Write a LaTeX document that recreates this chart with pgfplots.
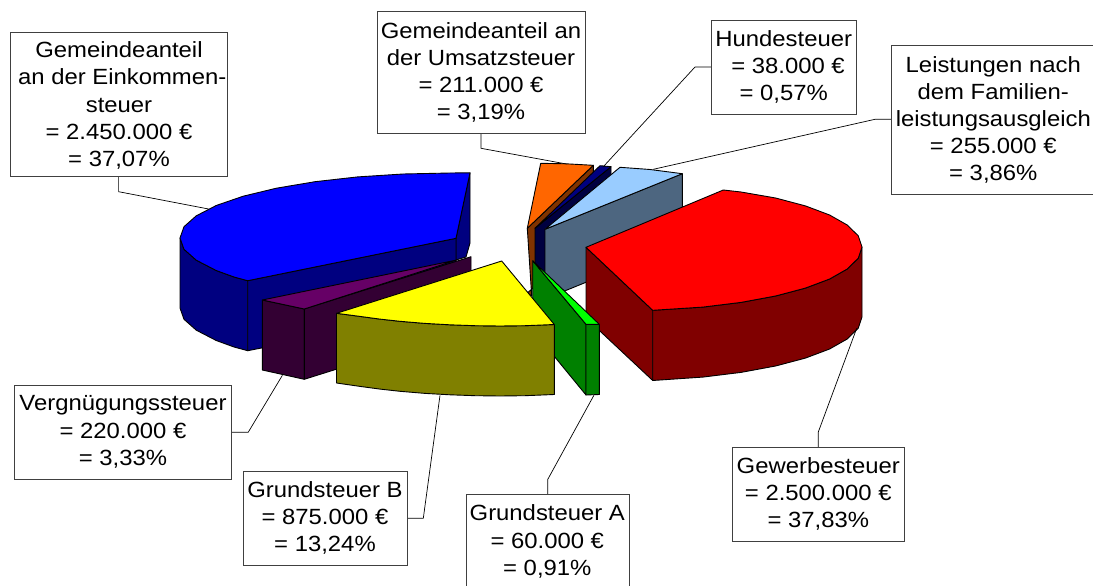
\documentclass[border=0pt]{standalone}
\usepackage{pgfplots}
\pgfplotsset{compat=1.18}
\usepackage{fontspec}
\setmainfont{Liberation Sans}
\definecolor{bluetop}{HTML}{0000FF}\definecolor{blueside}{HTML}{000080}
\definecolor{redtop}{HTML}{FF0000}\definecolor{redside}{HTML}{800000}
\definecolor{yeltop}{HTML}{FFFF00}\definecolor{yelside}{HTML}{808000}
\definecolor{purtop}{HTML}{660066}\definecolor{purside}{HTML}{330033}
\definecolor{grntop}{HTML}{00FF00}\definecolor{grnside}{HTML}{008000}
\definecolor{lbtop}{HTML}{99CCFF}\definecolor{lbside}{HTML}{4D6680}
\definecolor{ortop}{HTML}{FF6600}\definecolor{orside}{HTML}{803300}
\definecolor{navtop}{HTML}{000080}\definecolor{navside}{HTML}{000040}
\definecolor{boxline}{HTML}{404040}
\pgfplotsset{
  face/.style={fill=#1,draw=black,line width=0.9pt,line join=round},
  lbl/.style={fill=white,draw=boxline,line width=1pt},
  lead/.style={draw=black,line width=0.7pt},
}
\tikzset{
  txt/.style={align=center,anchor=center,inner sep=0pt,xscale=1.085,transform shape,
    font=\fontsize{22}{27.2}\selectfont},
}
\begin{document}
\begin{tikzpicture}
\begin{axis}[
  width=1093pt,height=586pt,scale only axis,
  xmin=0,xmax=1093,ymin=0,ymax=586,y dir=reverse,
  axis lines=none,
]
\addplot[fill=white,draw=none] coordinates {(0,0)(1093,0)(1093,586)(0,586)} --cycle;
% Gemeindeanteil Umsatzsteuer
\addplot[face=orside] coordinates {(527.3,228.3)(593.3,165.3)(593.3,235)(527.3,293)(531.7,296)} --cycle;
\addplot[face=ortop] coordinates {(540.7,163.3)(566,163.8)(593.3,165.3)(527.3,228.3)} --cycle;
% Hundesteuer
\addplot[face=navside] coordinates {(535,228.3)(611,166.7)(611,236)(535,298)} --cycle;
\addplot[face=navtop] coordinates {(600,165.7)(611,166.7)(535,228.3)} --cycle;
% Familienleistungsausgleich
\addplot[face=lbside] coordinates {(545,229.3)(682.3,173.7)(682.3,243)(545,299)} --cycle;
\addplot[face=lbtop] coordinates {(620,167.3)(650,169.5)(682.3,173.7)(545,229.3)} --cycle;
% Gewerbesteuer
\addplot[face=redside] coordinates {(586,247.3)(652.7,310.3)(652.7,380.5)(586,318)} --cycle;
\addplot[face=redside] coordinates {(652.7,310.3)(702.8,307.1)(741,302.4)(775.6,296)(805.4,288.1)(829.6,279)(847.4,268.9)(858.3,258.1)(862,247)
  (862,317)(858.3,328.1)(847.4,338.9)(829.6,349)(805.4,358.1)(775.6,366)(741,372.4)(702.8,377.1)(652.7,380.5)} --cycle;
\addplot[face=redtop] coordinates {(723.3,190)(586,247.3)(652.7,310.3)(702.8,307.1)(741,302.4)(775.6,296)(805.4,288.1)(829.6,279)(847.4,268.9)(858.3,258.1)(862,247)
  (858.3,235.9)(847.4,225.1)(829.6,215)(805.4,205.9)(775.6,198)(741,192)} --cycle;
% Einkommensteuer
\addplot[face=blueside] coordinates {(470,172.8)(456,238.3)(456,260)(466,257)(470,243)} --cycle;
\addplot[face=blueside] coordinates {(180,238)(184,249.3)(196.3,260.2)(216.2,270.5)(234,277)(247.7,280.7)(247.7,350.7)(234,347)(216.2,340.5)(196.3,330.2)(184,319.3)(180,308)} --cycle;
\addplot[face=blueside] coordinates {(247.7,280.7)(456,238.3)(456,310)(247.7,350.7)} --cycle;
\addplot[face=bluetop] coordinates {(180,238)(184,226.7)(196.3,215.8)(216.2,205.5)(243.2,196.2)(276.4,188.2)(315,181.7)(357.7,176.9)(403,174)(450,173)(470,172.8)
  (456,238.3)(247.7,280.7)(234,277)(216.2,270.5)(196.3,260.2)(184,249.3)} --cycle;
% Vergnuegungssteuer
\addplot[face=purside] coordinates {(262.3,300)(304.3,309)(304.3,379.3)(262.3,370)} --cycle;
\addplot[face=purside] coordinates {(304.3,309)(471,256.7)(471,327)(304.3,379.3)} --cycle;
\addplot[face=purtop] coordinates {(262.3,300)(456.7,260)(304.3,309)} --cycle;
% Grundsteuer A
\addplot[face=grnside] coordinates {(532.7,260.7)(586,324.3)(586,395)(532.7,330)} --cycle;
\addplot[face=grnside] coordinates {(586,324.3)(599.3,324.3)(599.3,394.5)(586,395)} --cycle;
\addplot[face=grntop] coordinates {(532.7,260.7)(599.3,324.3)(586,324.3)} --cycle;
% Grundsteuer B
\addplot[face=yelside] coordinates {(336.5,313.3)(360,316.4)(380,319.1)(400,321.3)(425,323.4)(450,324.8)(475,325.7)(500,326)(525,325.7)(554.3,324.5)
  (554.3,394.5)(525,395.7)(500,396)(475,395.7)(450,394.8)(425,393.4)(400,391.3)(380,389.1)(360,386.4)(336.5,383)} --cycle;
\addplot[face=yeltop] coordinates {(336.5,313.3)(501.7,261)(554.3,324.5)(525,325.7)(500,326)(475,325.7)(450,324.8)(425,323.4)(400,321.3)(380,319.1)(360,316.4)} --cycle;
% leader lines
\addplot[lead] coordinates {(118.6,176.7)(118.6,191.7)(208.6,209)};
\addplot[lead] coordinates {(481,133.3)(481,148.3)(566.4,164)};
\addplot[lead] coordinates {(711,67)(695,67)(603.3,166.7)};
\addplot[lead] coordinates {(891.3,119.3)(875,119.3)(653.3,169.3)};
\addplot[lead] coordinates {(231.4,432.3)(248.2,432.3)(282.4,375.3)};
\addplot[lead] coordinates {(407,518.3)(423.3,518.3)(440,395.3)};
\addplot[lead] coordinates {(547.8,494.7)(547.8,479.3)(593.9,395.3)};
\addplot[lead] coordinates {(818.3,447.3)(818.3,432)(856.7,328.3)};
% label boxes
\addplot[lbl] coordinates {(10,32.3)(227.7,32.3)(227.7,176.7)(10,176.7)} --cycle;
\addplot[lbl] coordinates {(377,12)(585.5,12)(585.5,133.3)(377,133.3)} --cycle;
\addplot[lbl] coordinates {(711,20.3)(856.3,20.3)(856.3,114.3)(711,114.3)} --cycle;
\addplot[lbl] coordinates {(891.3,45.3)(1100,45.3)(1100,194)(891.3,194)} --cycle;
\addplot[lbl] coordinates {(14.7,385.3)(231.4,385.3)(231.4,479.3)(14.7,479.3)} --cycle;
\addplot[lbl] coordinates {(243.3,471.3)(407,471.3)(407,565)(243.3,565)} --cycle;
\addplot[lbl] coordinates {(466,494.7)(629.4,494.7)(629.4,600)(466,600)} --cycle;
\addplot[lbl] coordinates {(732.7,447.3)(904,447.3)(904,541.3)(732.7,541.3)} --cycle;
% texts
\node[txt] at (axis cs:119,105.5) {Gemeindeanteil\\\hspace*{6pt}an der Einkommen-\\steuer\\= 2.450.000 €\\= 37,07\%};
\node[txt] at (axis cs:481,72.5) {Gemeindeanteil an\\der Umsatzsteuer\\= 211.000 €\\= 3,19\%};
\node[txt] at (axis cs:783.7,67) {Hundesteuer\\\hspace*{8pt}= 38.000 €\\= 0,57\%};
\node[txt] at (axis cs:993.3,120) {Leistungen nach\\dem Familien-\\leistungsausgleich\\= 255.000 €\\= 3,86\%};
\node[txt] at (axis cs:123,432) {Vergnügungssteuer\\= 220.000 €\\= 3,33\%};
\node[txt] at (axis cs:325,518) {Grundsteuer B\\= 875.000 €\\= 13,24\%};
\node[txt] at (axis cs:547.3,541.5) {Grundsteuer A\\= 60.000 €\\= 0,91\%};
\node[txt] at (axis cs:818.3,494) {Gewerbesteuer\\= 2.500.000 €\\= 37,83\%};
\end{axis}
\end{tikzpicture}
\end{document}
